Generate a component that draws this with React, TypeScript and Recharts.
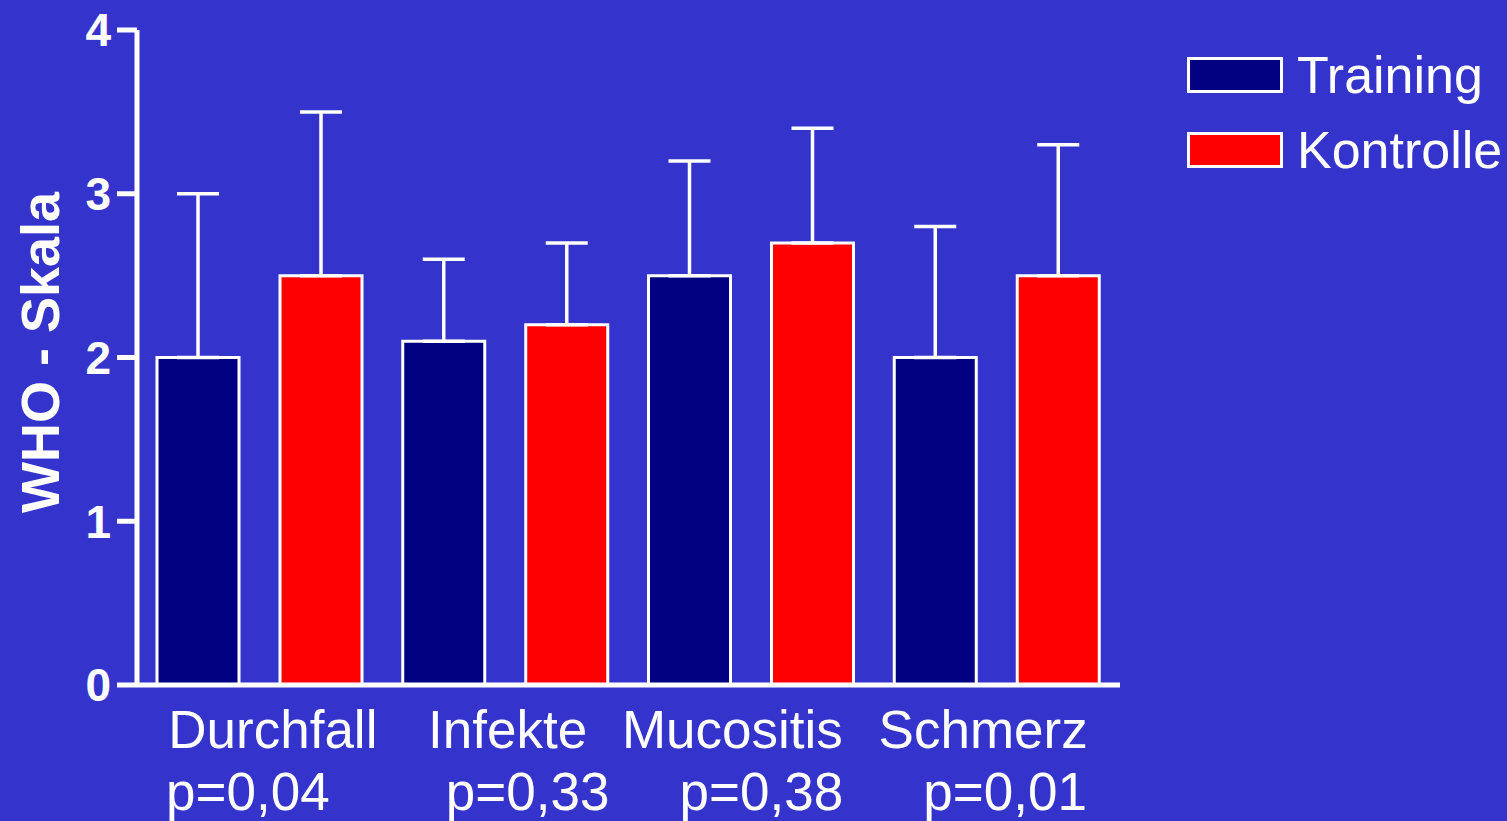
import { BarChart, Bar, XAxis, YAxis, ErrorBar } from "recharts";

const CATEGORIES = ["Durchfall", "Infekte", "Mucositis", "Schmerz"];
const P_VALUES = ["p=0,04", "p=0,33", "p=0,38", "p=0,01"];
const TRAINING = [2.0, 2.1, 2.5, 2.0];
const TRAINING_SD = [1.0, 0.5, 0.7, 0.8];
const KONTROLLE = [2.5, 2.2, 2.7, 2.5];
const KONTROLLE_SD = [1.0, 0.5, 0.7, 0.8];
const Y_TICKS = [0, 1, 2, 3, 4];

// the original slide has its labels placed by hand, slightly off-centre
const NAME_NUDGE = [13, 2, -19, -14];
const P_NUDGE = [-12, 22, 10, 8];

const BG = "#3434cc";
const NAVY = "#000080";
const RED = "#ff0000";
const FONT = "'Liberation Sans', Arial, sans-serif";

const data = CATEGORIES.map((name, i) => ({
  name,
  training: TRAINING[i],
  trainingErr: [0, TRAINING_SD[i]],
  kontrolle: KONTROLLE[i],
  kontrolleErr: [0, KONTROLLE_SD[i]],
}));

function CategoryTick({ x, y, payload, index }: any) {
  return (
    <g>
      <text x={x + NAME_NUDGE[index]} y={y + 63} textAnchor="middle" fill="#fff" fontSize={53} fontFamily={FONT}>
        {payload.value}
      </text>
      <text x={x + P_NUDGE[index]} y={y + 125} textAnchor="middle" fill="#fff" fontSize={53} fontFamily={FONT}>
        {P_VALUES[index]}
      </text>
    </g>
  );
}

function YLabel({ viewBox }: any) {
  const cx = 40;
  const cy = viewBox.y + viewBox.height / 2 - 5;
  return (
    <text
      x={cx}
      y={cy}
      transform={`rotate(-90, ${cx}, ${cy})`}
      textAnchor="middle"
      dominantBaseline="central"
      fill="#fff"
      fontSize={54}
      fontWeight="bold"
      fontFamily={FONT}
    >
      WHO - Skala
    </text>
  );
}

function LegendBox() {
  const items = [
    { label: "Training", color: NAVY },
    { label: "Kontrolle", color: RED },
  ];
  return (
    <div style={{ position: "absolute", left: 1187, top: 37, fontFamily: FONT }}>
      {items.map((it) => (
        <div key={it.label} style={{ display: "flex", alignItems: "center", height: 75 }}>
          <span
            style={{
              width: 90,
              height: 30,
              background: it.color,
              border: "3px solid #fff",
              marginRight: 14,
            }}
          />
          <span style={{ color: "#fff", fontSize: 52, lineHeight: "52px" }}>{it.label}</span>
        </div>
      ))}
    </div>
  );
}

export default function App() {
  return (
    <div style={{ position: "fixed", left: 0, top: 0, width: 1507, height: 821, background: BG }}>
      <BarChart
        width={1507}
        height={821}
        data={data}
        margin={{ top: 30, right: 387, bottom: 0, left: 0 }}
        barGap={41}
      >
        <XAxis
          dataKey="name"
          height={136}
          axisLine={{ stroke: "#fff", strokeWidth: 5 }}
          tickLine={false}
          tickSize={0}
          tickMargin={0}
          tick={<CategoryTick />}
          interval={0}
        />
        <YAxis
          width={137}
          domain={[0, 4]}
          ticks={Y_TICKS}
          allowDataOverflow
          axisLine={{ stroke: "#fff", strokeWidth: 5 }}
          tickLine={{ stroke: "#fff", strokeWidth: 5 }}
          tickSize={20}
          tickMargin={6}
          tick={{ fill: "#fff", fontSize: 46, fontWeight: "bold", fontFamily: FONT }}
          label={<YLabel />}
        />
        <Bar dataKey="training" name="Training" fill={NAVY} stroke="#fff" strokeWidth={3} barSize={82} isAnimationActive={false}>
          <ErrorBar dataKey="trainingErr" direction="y" width={21} stroke="#fff" strokeWidth={3.5} />
        </Bar>
        <Bar dataKey="kontrolle" name="Kontrolle" fill={RED} stroke="#fff" strokeWidth={3} barSize={82} isAnimationActive={false}>
          <ErrorBar dataKey="kontrolleErr" direction="y" width={21} stroke="#fff" strokeWidth={3.5} />
        </Bar>
      </BarChart>
      <LegendBox />
    </div>
  );
}
